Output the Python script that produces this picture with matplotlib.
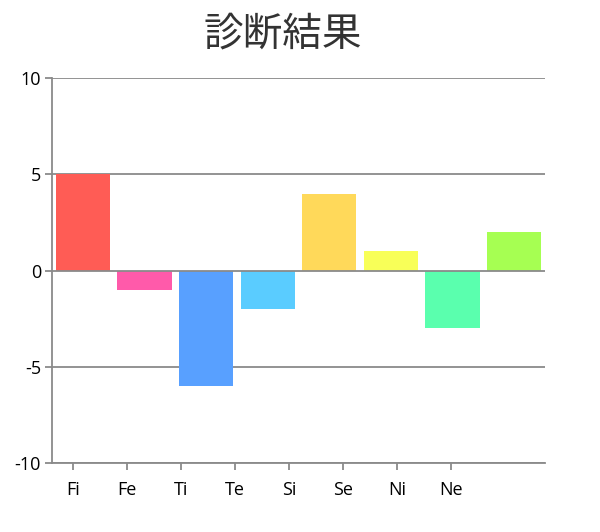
import numpy as np
import matplotlib.pyplot as plt

plt.rcParams['font.family'] = ['Open Sans', 'DejaVu Sans']

# データ
タイトル = "診断結果"
機能 = ["Fi", "Fe", "Ti", "Te", "Si", "Se", "Ni", "Ne"]
スコア = [5, -1, -6, -2, 4, 1, -3, 2]
色 = ["#FF5C55", "#FF5AAA", "#58A0FF", "#5ACCFF",
      "#FFD95A", "#F8FF58", "#5AFFAE", "#A6FF52"]
目盛り = [-10, -5, 0, 5, 10]

fig = plt.figure(figsize=(6, 5.32), dpi=100)
ax = fig.add_axes([52 / 600, 1 - 463 / 532, 493 / 600, 385 / 532])

n = len(機能)
x = np.arange(n) + 0.5
ax.bar(x, スコア, width=0.88, color=色, zorder=2)

# 横線
for v in 目盛り:
    ax.axhline(v, color="#8a8a8a", linewidth=1.3, zorder=3 if v == 0 else 1)

ax.set_xlim(0, n)
ax.set_ylim(-10, 10)
ax.set_yticks(目盛り)
ax.set_yticklabels([str(v) for v in 目盛り], fontsize=13)

# ラベルは棒の中心からずれている（元のグラフと同じ）
ラベル位置 = 0.34 + np.arange(n) * 0.876
ax.set_xticks(ラベル位置)
ax.set_xticklabels(機能, fontsize=13)

for s in ["top", "right"]:
    ax.spines[s].set_visible(False)
for s in ["left", "bottom"]:
    ax.spines[s].set_color("#8a8a8a")
    ax.spines[s].set_linewidth(1.3)
ax.tick_params(axis="both", colors="#8a8a8a", length=5, width=1.3, labelcolor="black")
ax.tick_params(axis="x", pad=8)
ax.tick_params(axis="y", pad=3)

fig.text(283 / 600, 1 - 34 / 532, タイトル, ha="center", va="center",
         fontsize=28.5, color="#333333",
         family=["Noto Sans CJK JP", "DejaVu Sans"])

fig.savefig("out.png", dpi=100, facecolor="white")
